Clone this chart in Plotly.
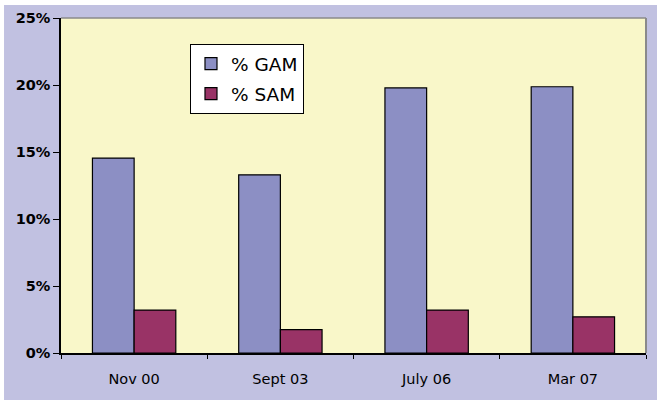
import plotly.graph_objects as go

categories = ["Nov 00", "Sept 03", "July 06", "Mar 07"]
gam_values = [0.1455, 0.133, 0.1978, 0.1987]
sam_values = [0.032, 0.0174, 0.032, 0.027]
y_tickvals = [0, 0.05, 0.10, 0.15, 0.20, 0.25]
y_ticktext = ["0%", "5%", "10%", "15%", "20%", "25%"]

LAV = "#C1C1E1"
YEL = "#F9F7C9"
FONT = "DejaVu Sans, Arial, sans-serif"

fig = go.Figure()
fig.add_trace(go.Bar(x=categories, y=gam_values, name="% GAM", legendgroup="g",
                     marker=dict(color="#8C8FC4", line=dict(color="black", width=1.2))))
fig.add_trace(go.Bar(x=categories, y=sam_values, name="% SAM", legendgroup="s",
                     marker=dict(color="#993366", line=dict(color="black", width=1.2))))

fig.update_layout(
    width=657, height=403,
    margin=dict(l=61, r=11, t=18, b=50),
    paper_bgcolor=LAV, plot_bgcolor=YEL,
    barmode="group", bargap=0.43, bargroupgap=0,
    font=dict(family=FONT, color="black"),
    legend=dict(x=0.2205, y=0.922, xanchor="left", yanchor="top",
                bgcolor="white", bordercolor="black", borderwidth=1,
                font=dict(size=18.5, family=FONT), traceorder="grouped", tracegroupgap=3),
    xaxis=dict(showline=True, linecolor="black", linewidth=1.5,
               ticks="outside", ticklen=4, tickcolor="black", tickson="boundaries",
               tickfont=dict(size=14.5, family=FONT), ticklabelstandoff=12, showgrid=False),
    yaxis=dict(range=[0, 0.25], tickvals=y_tickvals, ticktext=y_ticktext,
               showline=True, linecolor="black", linewidth=1.5,
               ticks="outside", ticklen=6, tickcolor="black",
               tickfont=dict(size=14.5, family=FONT, weight="bold"),
               showgrid=False, zeroline=False),
    shapes=[
        dict(type="line", xref="paper", yref="paper", x0=0, x1=1, y0=1, y1=1,
             line=dict(color="#8A8A8A", width=1.5), layer="above"),
        dict(type="line", xref="paper", yref="paper", x0=1, x1=1, y0=0, y1=1,
             line=dict(color="#8A8A8A", width=2), layer="above"),
        dict(type="rect", xref="paper", yref="paper", x0=-0.2, x1=-0.0974, y0=-0.3, y1=1.2,
             fillcolor="white", line=dict(width=0), layer="above"),
        dict(type="rect", xref="paper", yref="paper", x0=-0.2, x1=1.2, y0=1.0388, y1=1.2,
             fillcolor="white", line=dict(width=0), layer="above"),
        dict(type="rect", xref="paper", yref="paper", x0=-0.2, x1=1.2, y0=-0.3, y1=-0.1403,
             fillcolor="white", line=dict(width=0), layer="above"),
    ],
)

fig.write_html("out.html")
